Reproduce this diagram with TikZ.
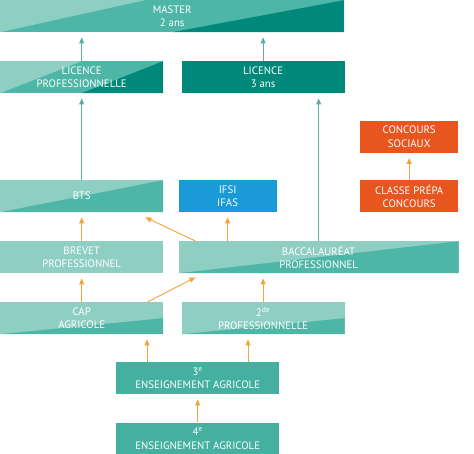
\documentclass[tikz,border=0pt]{standalone}
\usepackage{fontspec}
\setmainfont{PT Sans}
\usetikzlibrary{arrows.meta,positioning,calc}

\definecolor{tealpale}{HTML}{8FCEC3}
\definecolor{tealmid}{HTML}{4DB6A6}
\definecolor{tealdark}{HTML}{00897B}
\definecolor{tealbox}{HTML}{43B0A0}
\definecolor{ifsiblue}{HTML}{1A9AD7}
\definecolor{concorange}{HTML}{E8561F}
\definecolor{arrorange}{HTML}{F2A33A}
\definecolor{arrteal}{HTML}{5AAEA6}

\begin{document}
\begin{tikzpicture}[
  x=1pt, y=-1pt,
  box/.style={minimum height=32pt, inner sep=0pt, align=center, text=white,
    font=\fontsize{10.8}{13.5}\selectfont},
  duo/.style={fill=tealpale, path picture={
    \fill[tealmid] (path picture bounding box.south west)
      -- ($(path picture bounding box.south east)!#1!(path picture bounding box.north east)$)
      -- (path picture bounding box.south east) -- cycle;}},
  duo/.default=1,
  trio/.style 2 args={fill=tealmid, path picture={
    \fill[tealpale] (path picture bounding box.north west)
      -- ($(path picture bounding box.north west)!#1!(path picture bounding box.north east)$)
      -- (path picture bounding box.south west) -- cycle;
    \fill[tealdark] ($(path picture bounding box.south west)!#2!(path picture bounding box.south east)$)
      -- (path picture bounding box.south east)
      -- (path picture bounding box.north east) -- cycle;}},
  tarr/.style={-{Triangle[length=6pt,width=5pt]}, arrteal, line width=0.9pt, shorten >=5pt},
  oarr/.style={-{Triangle[length=6pt,width=5pt]}, arrorange, line width=0.9pt, shorten >=5pt}
]
  \useasboundingbox (0,0) rectangle (474,454);

  % rows, top to bottom
  \node[box, trio={0.42}{0.5}, minimum width=344pt, anchor=north west] (master) at (0,0) {MASTER\\2 ans};
  \node[box, trio={0.5}{0.5}, minimum width=163pt, anchor=north west] (licpro) at (0,61) {LICENCE\\PROFESSIONNELLE};
  \node[box, fill=tealdark, minimum width=163pt, right=18pt of licpro] (lic3) {LICENCE\\3 ans};
  \node[box, duo, minimum width=163pt, anchor=north west] (bts) at (0,180) {BTS};
  \node[box, fill=ifsiblue, minimum width=98pt, right=15pt of bts] (ifsi) {IFSI\\IFAS};
  \node[box, fill=concorange, minimum width=98pt, anchor=north west] (classe) at (360,180) {CLASSE PRÉPA\\CONCOURS};
  \node[box, fill=concorange, minimum width=98pt, above=27pt of classe] (concours) {CONCOURS\\SOCIAUX};
  \node[box, fill=tealpale, minimum width=163pt, anchor=north west] (brevet) at (0,241) {BREVET\\PROFESSIONNEL};
  \node[box, duo, minimum width=280pt, right=15pt of brevet] (bac) {BACCALAURÉAT\\PROFESSIONNEL};
  \node[box, duo=0.5, minimum width=163pt, anchor=north west] (cap) at (0,302) {CAP\\AGRICOLE};
  \node[box, duo=0.5, minimum width=163pt, right=18pt of cap] (twode) {2\textsuperscript{de}\\PROFESSIONNELLE};
  \node[box, fill=tealbox, minimum width=163pt, anchor=north west] (third) at (116,362) {3\textsuperscript{e}\\ENSEIGNEMENT AGRICOLE};
  \node[box, fill=tealbox, minimum width=163pt, below=28pt of third] (fourth) {4\textsuperscript{e}\\ENSEIGNEMENT AGRICOLE};

  % helper points
  \coordinate (lic3x) at ($(lic3.south west)!0.84!(lic3.south east)$);
  \coordinate (thirdl) at ($(third.north west)+(31,0)$);
  \coordinate (thirdr) at ($(third.north west)+(132,0)$);

  % teal connectors
  \draw[tarr] (licpro.north) -- (licpro.north |- master.south);
  \draw[tarr] (lic3.north) -- (lic3.north |- master.south);
  \draw[tarr] (bts.north) -- (bts.north |- licpro.south);
  \draw[tarr] (lic3x |- bac.north) -- (lic3x);

  % orange connectors
  \draw[oarr] (ifsi.south |- bac.north) -- (ifsi.south);
  \draw[oarr] (classe.north) -- (concours.south);
  \draw[oarr, shorten >=0pt] ($(bac.north west)+(17,0)$) -- ($(bts.south east)+(-18,5)$);
  \draw[oarr] (brevet.north) -- (bts.south);
  \draw[oarr] (cap.north) -- (brevet.south);
  \draw[oarr, shorten >=0pt] ($(cap.north east)+(-16,0)$) -- ($(bac.south west)+(17,4)$);
  \draw[oarr] (twode.north) -- (twode.north |- bac.south);
  \draw[oarr] (thirdl) -- (thirdl |- cap.south);
  \draw[oarr] (thirdr) -- (thirdr |- twode.south);
  \draw[oarr] (fourth.north) -- (third.south);
\end{tikzpicture}
\end{document}
